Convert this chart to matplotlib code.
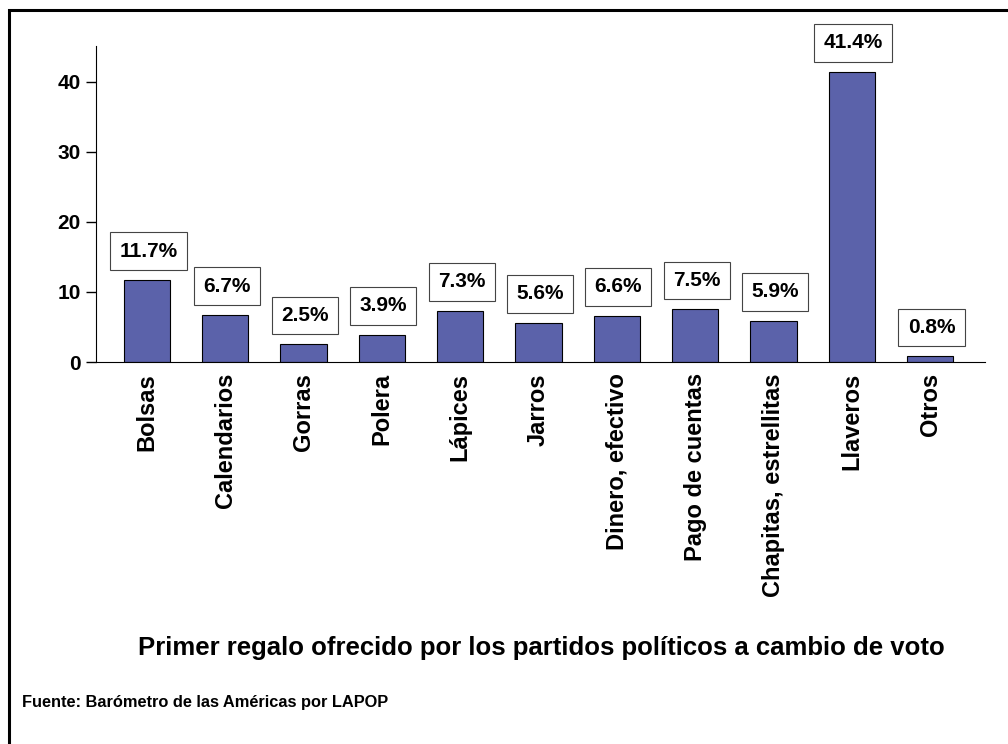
import matplotlib.pyplot as plt
from matplotlib.patches import Rectangle

# datos del grafico
categorias = ['Bolsas', 'Calendarios', 'Gorras', 'Polera', 'Lápices', 'Jarros',
              'Dinero, efectivo', 'Pago de cuentas', 'Chapitas, estrellitas',
              'Llaveros', 'Otros']
porcentajes = [11.7, 6.7, 2.5, 3.9, 7.3, 5.6, 6.6, 7.5, 5.9, 41.4, 0.8]
yticks = [0, 10, 20, 30, 40]

plt.rcParams['font.family'] = ['Liberation Sans', 'DejaVu Sans']

fig = plt.figure(figsize=(10.08, 7.44), dpi=100)
ax = fig.add_axes([96 / 1008, 1 - 362 / 744, (985 - 96) / 1008, (362 - 46) / 744])

x = range(len(categorias))
ax.bar(x, porcentajes, width=0.59, color='#5b62aa', edgecolor='black', linewidth=0.8)

# etiquetas en cajas sobre cada barra
for xi, v in zip(x, porcentajes):
    ax.annotate('%.1f%%' % v, (xi, v), xytext=(1, 14), textcoords='offset points',
                ha='center', va='bottom', fontsize=15, fontweight='bold',
                bbox=dict(boxstyle='square,pad=0.45', fc='white', ec='#444444', lw=0.8))

ax.set_xlim(-0.65, 10.7)
ax.set_ylim(0, 45.1)
ax.set_yticks(yticks)
ax.set_xticks(list(x))
ax.set_xticklabels(categorias, rotation=90, fontsize=17, fontweight='bold')
for lab in ax.get_yticklabels():
    lab.set_fontsize(15)
    lab.set_fontweight('bold')
ax.tick_params(axis='x', length=0, pad=8)
ax.tick_params(axis='y', length=7, width=1, pad=4)
ax.spines['top'].set_visible(False)
ax.spines['right'].set_visible(False)

fig.text(541 / 1008, 1 - 648 / 744, 'Primer regalo ofrecido por los partidos políticos a cambio de voto',
         ha='center', va='center', fontsize=18.5, fontweight='bold')
fig.text(22 / 1008, 1 - 703 / 744, 'Fuente: Barómetro de las Américas por LAPOP',
         ha='left', va='center', fontsize=11.8, fontweight='bold')

# marco exterior (solo visible arriba e izquierda)
fig.patches.append(Rectangle((8.5 / 1008, -0.1), 1.2, 1 - 9.5 / 744 + 0.1,
                             transform=fig.transFigure, fill=False, ec='black', lw=2.2))

fig.savefig('out.png', dpi=100)
